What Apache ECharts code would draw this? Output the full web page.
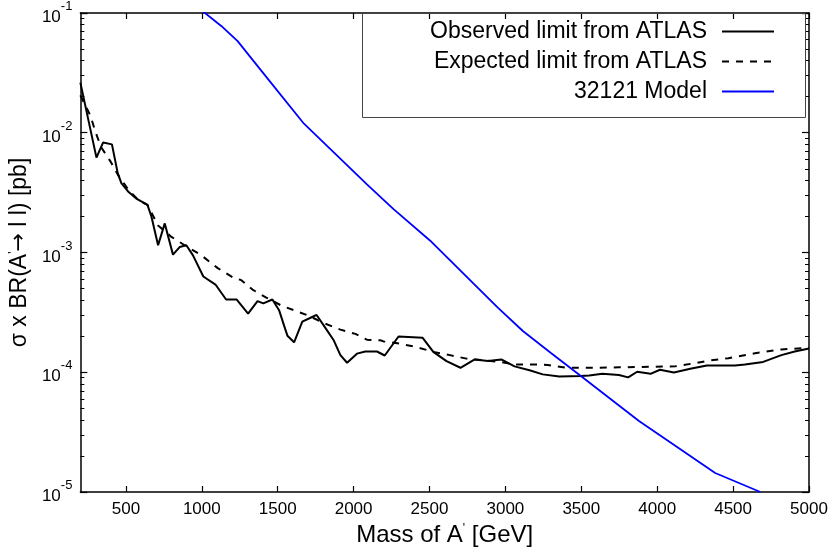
<!DOCTYPE html>
<html>
<head>
<meta charset="utf-8">
<script src="https://cdn.jsdelivr.net/npm/echarts@6/dist/echarts.min.js"></script>
<style>
html,body{margin:0;padding:0;background:#fff;}
#c{width:834px;height:554px;}
</style>
</head>
<body>
<div id="c"></div>
<script>
// ---- data ----
const massObs = [200, 306, 350, 408, 446, 470, 518, 572, 642, 668, 712, 756, 810, 854, 898, 941, 1010, 1090, 1160, 1230, 1305, 1367, 1405, 1465, 1509, 1542, 1564, 1608, 1662, 1706, 1756, 1804, 1870, 1913, 1957, 2022, 2077, 2154, 2205, 2296, 2455, 2525, 2612, 2704, 2798, 2886, 2973, 3060, 3159, 3246, 3355, 3497, 3552, 3639, 3748, 3809, 3868, 3956, 4018, 4110, 4218, 4327, 4513, 4578, 4698, 4818, 4906, 5000];
const limitObs = [0.0262, 0.0062, 0.0083, 0.0080, 0.0046, 0.0038, 0.0032, 0.0028, 0.0025, 0.0020, 0.00115, 0.00175, 0.00096, 0.00111, 0.00115, 0.00095, 0.00063, 0.00054, 0.000405, 0.000405, 0.000309, 0.000393, 0.000376, 0.000405, 0.00033, 0.000245, 0.000202, 0.000178, 0.000265, 0.000281, 0.000301, 0.000245, 0.000184, 0.000139, 0.000120, 0.000143, 0.000149, 0.000149, 0.000138, 0.000199, 0.000194, 0.000148, 0.000124, 0.000109, 0.000128, 0.000124, 0.000128, 0.000112, 0.000104, 0.000096, 0.000092, 0.000093, 0.000094, 0.000097, 0.000095, 0.0000906, 0.000101, 0.000097, 0.000105, 0.0000995, 0.000107, 0.000114, 0.000114, 0.000116, 0.000122, 0.000139, 0.000149, 0.000158];

const massExp = [200, 266, 299, 336, 397, 450, 520, 583, 642, 712, 800, 887, 996, 1105, 1214, 1258, 1334, 1425, 1525, 1619, 1706, 1804, 1913, 2012, 2088, 2176, 2197, 2307, 2416, 2525, 2634, 2743, 2853, 2962, 3071, 3202, 3279, 3399, 3574, 3748, 3945, 4120, 4229, 4338, 4469, 4644, 4818, 5000];
const limitExp = [0.0205, 0.0139, 0.0102, 0.0076, 0.0058, 0.0044, 0.0033, 0.00273, 0.0025, 0.00168, 0.00135, 0.00115, 0.00095, 0.00074, 0.00061, 0.00059, 0.00049, 0.00042, 0.00036, 0.000325, 0.000296, 0.000257, 0.000227, 0.000209, 0.000187, 0.000185, 0.000181, 0.000173, 0.000162, 0.000148, 0.000139, 0.00013, 0.000126, 0.000122, 0.000116, 0.000116, 0.000115, 0.000109, 0.000109, 0.000110, 0.000111, 0.000112, 0.000118, 0.000125, 0.000131, 0.000144, 0.000155, 0.00016];

const massModel = [1000, 1130, 1236, 1340, 1455, 1673, 2088, 2263, 2503, 2787, 2950, 3115, 3300, 3497, 3880, 4382, 4680];
const sigmaModel = [0.105, 0.0776, 0.0582, 0.0398, 0.0262, 0.0119, 0.0037, 0.0023, 0.00126, 0.000556, 0.000347, 0.000221, 0.000145, 0.000093, 0.0000392, 0.0000144, 0.00001];

const xTicks = [500, 1000, 1500, 2000, 2500, 3000, 3500, 4000, 4500, 5000];

const seriesNames = ['Observed limit from ATLAS', 'Expected limit from ATLAS', '32121 Model'];

// ---- chart ----
const FONT = '"Liberation Sans", Arial, Helvetica, sans-serif';
const TICK = '#000';

const chart = echarts.init(document.getElementById('c'), null, {renderer: 'canvas'});
const axisLineStyle = {color: '#000', width: 1.5};

function legendFor(name, top) {
  return {
    data: [name], right: 59, top: top, align: 'right', orient: 'vertical',
    itemWidth: 52, itemHeight: 22, padding: 0,
    itemStyle: {opacity: 0, color: 'rgba(0,0,0,0)', borderWidth: 0},
    textStyle: {fontFamily: FONT, fontSize: 23, color: '#000', padding: [0, 10, 0, 0]},
    selectedMode: false
  };
}

const option = {
  animation: false,
  backgroundColor: '#fff',
  grid: {left: 75, right: 25, top: 6, bottom: 62},
  legend: [legendFor(seriesNames[0], 20), legendFor(seriesNames[1], 50), legendFor(seriesNames[2], 80)],
  graphic: [{
    type: 'rect', left: 362, top: 13, z: 5,
    shape: {width: 443, height: 104},
    style: {fill: 'rgba(0,0,0,0)', stroke: '#444', lineWidth: 1}
  }],
  xAxis: [{
    type: 'value', min: 200, max: 5000, position: 'bottom',
    axisLine: {show: true, onZero: false, lineStyle: axisLineStyle},
    axisTick: {show: true, inside: true, length: 6, customValues: xTicks, lineStyle: {color: TICK, width: 1.2}},
    axisLabel: {customValues: xTicks, formatter: v => String(v), fontFamily: FONT, fontSize: 17, color: '#000', margin: 9},
    splitLine: {show: false},
    name: 'Mass of A{p|\'} [GeV]', nameLocation: 'middle', nameGap: 30,
    nameTextStyle: {fontFamily: FONT, fontSize: 24, color: '#000',
      rich: {p: {fontFamily: FONT, fontSize: 12, color: '#000', verticalAlign: 'top', padding: [0, 0, 10, 0]}}}
  }, {
    type: 'value', min: 200, max: 5000, position: 'top',
    axisLine: {show: true, onZero: false, lineStyle: axisLineStyle},
    axisTick: {show: true, inside: true, length: 6, customValues: xTicks, lineStyle: {color: TICK, width: 1.2}},
    axisLabel: {show: false}, splitLine: {show: false}
  }],
  yAxis: [{
    type: 'log', logBase: 10, min: 1e-5, max: 1e-1, position: 'left',
    axisLine: {show: true, onZero: false, lineStyle: axisLineStyle},
    axisTick: {show: true, inside: true, length: 7, lineStyle: {color: TICK, width: 1.2}},
    minorTick: {show: true, splitNumber: 9, length: 4, lineStyle: {color: TICK, width: 1}},
    axisLabel: {
      fontFamily: FONT, color: '#000', margin: 8,
      formatter: v => '{b|10}{s|' + Math.round(Math.log10(v)) + '}',
      rich: {
        b: {fontFamily: FONT, fontSize: 17, color: '#000', lineHeight: 26, verticalAlign: 'bottom'},
        s: {fontFamily: FONT, fontSize: 13, color: '#000', verticalAlign: 'top', lineHeight: 14}
      }
    },
    splitLine: {show: false},
    name: '{t|σ x BR(A}{p|\'}{a|→}{t| l l) [pb]}', nameLocation: 'middle', nameGap: 38, nameRotate: 90,
    nameTextStyle: {fontFamily: FONT, fontSize: 23, color: '#000',
      rich: {
        t: {fontFamily: FONT, fontSize: 23, color: '#000'},
        a: {fontFamily: '"DejaVu Sans", sans-serif', fontSize: 22, color: '#000'},
        p: {fontFamily: FONT, fontSize: 12, color: '#000', verticalAlign: 'top', padding: [0, 0, 10, 0]}
      }}
  }, {
    type: 'log', logBase: 10, min: 1e-5, max: 1e-1, position: 'right',
    axisLine: {show: true, onZero: false, lineStyle: axisLineStyle},
    axisTick: {show: true, inside: true, length: 7, lineStyle: {color: TICK, width: 1.2}},
    minorTick: {show: true, splitNumber: 9, length: 4, lineStyle: {color: TICK, width: 1}},
    axisLabel: {show: false}, splitLine: {show: false}
  }],
  series: [{
    name: seriesNames[0], type: 'line', xAxisIndex: 0, yAxisIndex: 0,
    data: massObs.map((m, i) => [m, limitObs[i]]),
    symbol: 'none', clip: true,
    lineStyle: {color: '#000', width: 2}, itemStyle: {color: '#000'}, z: 3
  }, {
    name: seriesNames[1], type: 'line', xAxisIndex: 0, yAxisIndex: 0,
    data: massExp.map((m, i) => [m, limitExp[i]]),
    symbol: 'none', clip: true,
    lineStyle: {color: '#000', width: 2, type: [7, 7]}, itemStyle: {color: '#000'}, z: 3
  }, {
    name: seriesNames[2], type: 'line', xAxisIndex: 0, yAxisIndex: 0,
    data: massModel.map((m, i) => [m, sigmaModel[i]]),
    symbol: 'none', clip: true,
    lineStyle: {color: '#0000ff', width: 1.8}, itemStyle: {color: '#0000ff'}, z: 4
  }]
};
chart.setOption(option);
</script>
</body>
</html>
